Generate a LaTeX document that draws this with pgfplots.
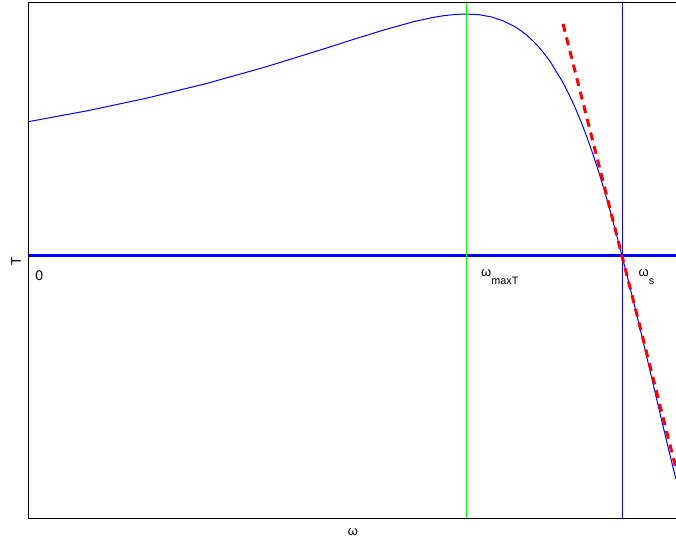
\documentclass[border=0pt]{standalone}
\usepackage{fontspec}
\setmainfont{Liberation Sans}
\usepackage{pgfplots}
\pgfplotsset{compat=1.18}
\begin{document}
\begin{tikzpicture}
\begin{axis}[at={(0pt,0pt)},anchor=south west,
  width=324pt,height=258pt,scale only axis,
  xmin=0,xmax=1.0909,ymin=-1.0868,ymax=1.0455,
  hide axis,clip=false]
% zero line
\addplot[blue,line width=1.5pt] coordinates {(0,0) (1.0909,0)};
% torque curve
\addplot[blue,line width=0.5pt] coordinates {
(0,0.5547) (0.1,0.6001) (0.2,0.6524) (0.3,0.7125) (0.4,0.7813)
(0.5,0.8574) (0.55,0.8967) (0.6,0.9348) (0.65,0.9688) (0.68,0.9850)
(0.7,0.9931) (0.72,0.9984) (0.7374,1.0) (0.76,0.9969) (0.78,0.9880)
(0.8,0.9718) (0.82,0.9470) (0.83,0.9307) (0.84,0.9115) (0.85,0.8890)
(0.86,0.8632) (0.87,0.8336) (0.88,0.8000) (0.9,0.7193) (0.91,0.6717)
(0.92,0.6191) (0.93,0.5611) (0.94,0.4976) (0.95,0.4284) (0.96,0.3536)
(0.97,0.2731) (0.98,0.1871) (0.99,0.0960) (1.0,0) (1.01,-0.0953)
(1.02,-0.194) (1.03,-0.296) (1.04,-0.399) (1.05,-0.504) (1.06,-0.609)
(1.07,-0.713) (1.08,-0.815) (1.0909,-0.923)};
% vertical lines
\addplot[green,line width=0.5pt] coordinates {(0.7374,-1.0868) (0.7374,1.0455)};
\addplot[blue,line width=0.5pt] coordinates {(1,-1.0868) (1,1.0455)};
% tangent
\addplot[red,line width=1.5pt,dash pattern=on 4pt off 3pt] coordinates {(0.9007,0.959) (1.0909,-0.878)};
\end{axis}
% frame (left, top, bottom)
\draw[black,line width=0.5pt] (324pt,258pt) -- (0pt,258pt) -- (0pt,0pt) -- (324pt,0pt);
% texts
\node[anchor=base west,inner sep=0pt,font=\fontsize{7}{8}\selectfont] at (3.5pt,119.2pt) {0};
\node[anchor=base west,inner sep=0pt] at (226.4pt,121.2pt) {\fontsize{6.5}{7}\selectfont ω\raisebox{-4.1pt}{\fontsize{5.4}{6}\selectfont maxT}};
\node[anchor=base west,inner sep=0pt] at (305.1pt,121.2pt) {\fontsize{6.5}{7}\selectfont ω\raisebox{-4.1pt}{\fontsize{5.4}{6}\selectfont s}};
\node[font=\fontsize{6.5}{7}\selectfont] at (162.5pt,-6.75pt) {ω};
\node[rotate=90,font=\fontsize{7}{8}\selectfont] at (-6pt,128.75pt) {T};
\pgfresetboundingbox
\path[use as bounding box] (-14pt,-11pt) rectangle (324pt,259.5pt);
\end{tikzpicture}
\end{document}
